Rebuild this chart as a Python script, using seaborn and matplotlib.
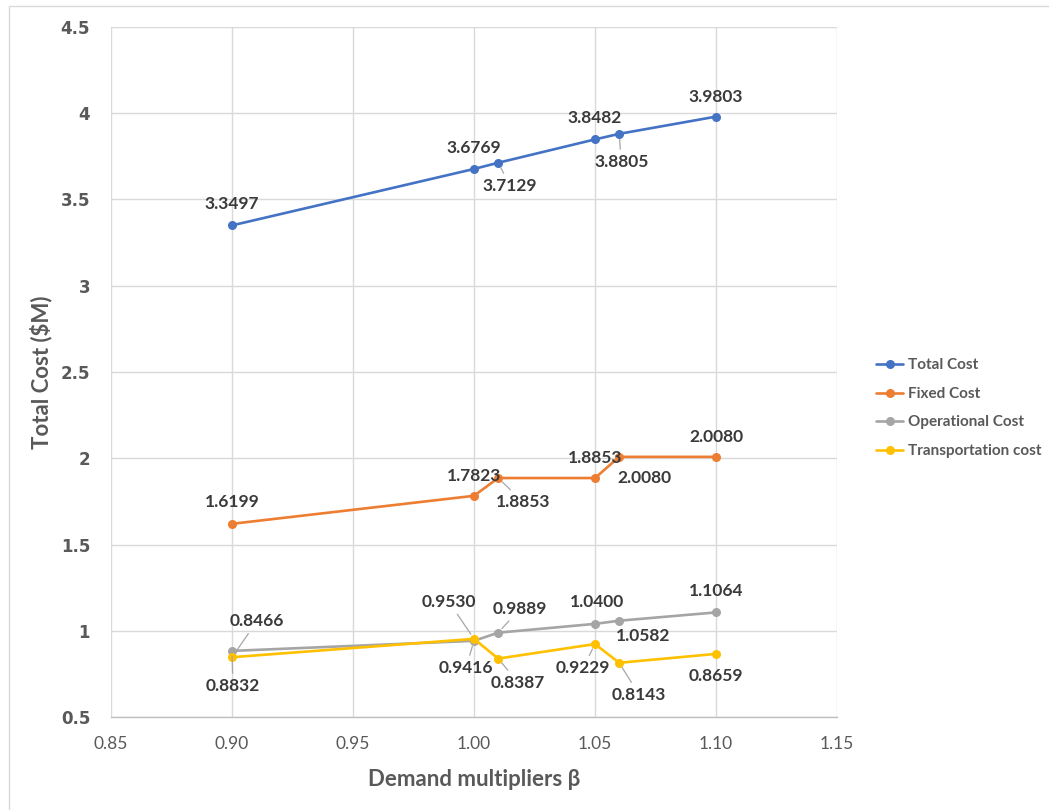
import matplotlib
matplotlib.use("Agg")
import matplotlib.pyplot as plt
import matplotlib.patches as mpatches
import seaborn as sns
import pandas as pd

# Demand multiplier levels and the cost components ($M) at each level
beta = [0.90, 1.00, 1.01, 1.05, 1.06, 1.10]
total_cost = [3.3497, 3.6769, 3.7129, 3.8482, 3.8805, 3.9803]
fixed_cost = [1.6199, 1.7823, 1.8853, 1.8853, 2.0080, 2.0080]
operational_cost = [0.8832, 0.9416, 0.9889, 1.0400, 1.0582, 1.1064]
transport_cost = [0.8466, 0.9530, 0.8387, 0.9229, 0.8143, 0.8659]

series_names = ["Total Cost", "Fixed Cost", "Operational Cost", "Transportation cost"]
series_values = [total_cost, fixed_cost, operational_cost, transport_cost]
colors = ["#4472C4", "#ED7D31", "#A5A5A5", "#FFC000"]

x_ticks = [0.85, 0.90, 0.95, 1.00, 1.05, 1.10, 1.15]
y_ticks = [0.5, 1, 1.5, 2, 2.5, 3, 3.5, 4, 4.5]

# Label placement: pixel offset from each point and whether a leader line is drawn
label_layout = {
    "Total Cost": [(0, 21, False), (0, 21, False), (12, -23, True),
                   (0, 21, False), (2, -28, True), (0, 20, False)],
    "Fixed Cost": [(0, 22, False), (0, 20, False), (25, -24, True),
                   (0, 20, False), (25, -21, False), (0, 20, False)],
    "Operational Cost": [(1, -35, True), (-8, -27, True), (22, 24, True),
                         (2, 22, False), (24, -15, False), (0, 21, False)],
    "Transportation cost": [(25, 36, True), (-25, 37, True), (20, -24, True),
                            (-12, -24, True), (20, -32, True), (0, -22, False)],
}

frames = [pd.DataFrame({"beta": beta, "cost": vals, "series": name})
          for name, vals in zip(series_names, series_values)]
df = pd.concat(frames, ignore_index=True)

sns.set_theme(style="white")
plt.rcParams["font.family"] = ["Lato", "DejaVu Sans"]

fig = plt.figure(figsize=(10.49, 8.10), dpi=100)
ax = fig.add_axes([0.1058, 0.1148, 0.6921, 0.8519])

sns.lineplot(data=df, x="beta", y="cost", hue="series", hue_order=series_names,
             palette=colors, marker="o", markersize=6.5, markeredgewidth=0,
             linewidth=1.9, ax=ax, sort=False, legend=True)

ax.set_xlim(0.85, 1.15)
ax.set_ylim(0.5, 4.5)
ax.set_xticks(x_ticks)
ax.set_xticklabels([f"{t:.2f}" for t in x_ticks], fontsize=12.5,
                   color="#595959", fontfamily="Lato")
ax.set_yticks(y_ticks)
ax.set_yticklabels([f"{t:g}" for t in y_ticks], fontsize=12, fontweight="bold",
                   color="#595959", fontfamily="DejaVu Sans")
ax.tick_params(axis="both", length=0)
ax.tick_params(axis="x", pad=14)
ax.tick_params(axis="y", pad=15)

ax.grid(True, color="#D9D9D9", linewidth=1)
ax.set_axisbelow(True)
for side in ["top", "right", "left"]:
    ax.spines[side].set_visible(False)
ax.spines["bottom"].set_color("#BFBFBF")
ax.spines["bottom"].set_linewidth(1)

ax.set_xlabel("Demand multipliers β", fontsize=16, fontweight="bold",
              color="#595959", labelpad=12)
ax.set_ylabel("Total Cost ($M)", fontsize=16, fontweight="bold",
              color="#595959", labelpad=6)

# Data labels
for name, vals in zip(series_names, series_values):
    for xv, yv, (dx, dy, leader) in zip(beta, vals, label_layout[name]):
        kw = {}
        if leader:
            kw["arrowprops"] = dict(arrowstyle="-", color="#A6A6A6", lw=0.9,
                                    shrinkA=1, shrinkB=4)
        ax.annotate(f"{yv:.4f}", xy=(xv, yv), xytext=(dx, dy),
                    textcoords="offset pixels", ha="center", va="center",
                    fontsize=12.5, fontweight="bold", color="#3A3A3A", **kw)

leg = ax.legend(loc="center left", bbox_to_anchor=(0.835, 0.496),
                bbox_transform=fig.transFigure, frameon=False,
                fontsize=11, handlelength=1.8, handletextpad=0.3,
                labelspacing=0.95, borderpad=0, borderaxespad=0)
for txt in leg.get_texts():
    txt.set_color("#595959")
    txt.set_fontweight("bold")

# Outer chart frame
frame = mpatches.Rectangle((9 / 1049, -0.1), 1.2, 1.1 - 6 / 810,
                           transform=fig.transFigure, fill=False,
                           edgecolor="#D9D9D9", linewidth=1, clip_on=False)
fig.patches.append(frame)

fig.savefig("out.png", dpi=100, facecolor="white")
